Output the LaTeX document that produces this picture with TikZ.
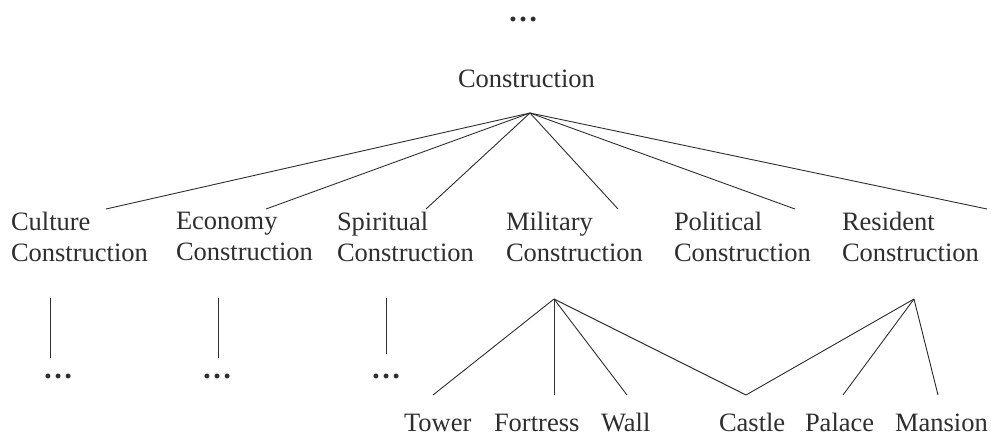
\documentclass[tikz,border=0pt]{standalone}
\usepackage{fontspec}
\setmainfont{Liberation Serif}
\definecolor{ink}{HTML}{2E2E2E}
\tikzset{
  label/.style={inner sep=0pt, outer sep=0pt, text=ink,
    font=\fontsize{26.5}{31}\selectfont},
  twoline/.style={label, align=left, anchor=north west},
  leaf/.style={label, anchor=base west},
  more/.style={inner sep=0pt, outer sep=0pt, text=ink, anchor=base,
    font=\fontsize{30}{30}\selectfont\bfseries},
  edge/.style={draw=ink, line width=0.9pt},
}
\begin{document}
\begin{tikzpicture}[x=1pt, y=-1pt]
  \useasboundingbox (0,0) rectangle (991,436);

  % root of the tree and the omitted level above it
  \node[more] (top) at (523,22) {…};
  \node[leaf] (root) at (458,88) {Construction};
  \coordinate (root-p) at (530,113);

  % second level
  \node[twoline] (cul) at (11,212) {Culture\\Construction};
  \node[twoline] (eco) at (176,212) {Economy\\Construction};
  \node[twoline] (spi) at (337,212) {Spiritual\\Construction};
  \node[twoline] (mil) at (506,212) {Military\\Construction};
  \node[twoline] (pol) at (674,212) {Political\\Construction};
  \node[twoline] (res) at (842,212) {Resident\\Construction};

  % where the edges from the root meet each child
  \coordinate (cul-p) at (106,209);
  \coordinate (eco-p) at (266,209);
  \coordinate (spi-p) at (426,209);
  \coordinate (mil-p) at (618,209);
  \coordinate (pol-p) at (795,209);
  \coordinate (res-p) at (987,209);

  \foreach \c in {cul,eco,spi,mil,pol,res}
    \draw[edge] (root-p) -- (\c-p);

  % collapsed branches
  \coordinate (cul-b) at (50,298);
  \coordinate (eco-b) at (218,298);
  \coordinate (spi-b) at (386,298);
  \coordinate (cul-e) at (50,358);
  \coordinate (eco-e) at (218,358);
  \coordinate (spi-e) at (386,354);
  \node[more] (cul-m) at (58,378) {…};
  \node[more] (eco-m) at (217,378) {…};
  \node[more] (spi-m) at (386,378) {…};
  \foreach \c in {cul,eco,spi}
    \draw[edge] (\c-b) -- (\c-e);

  % third level
  \node[leaf] (tow) at (404,431) {Tower};
  \node[leaf] (for) at (494,431) {Fortress};
  \node[leaf] (wal) at (601,431) {Wall};
  \node[leaf] (cas) at (719,431) {Castle};
  \node[leaf] (pal) at (805,431) {Palace};
  \node[leaf] (man) at (895,431) {Mansion};

  \coordinate (mil-b) at (554,299);
  \coordinate (res-b) at (914,299);
  \coordinate (tow-p) at (433,395);
  \coordinate (for-p) at (554,395);
  \coordinate (wal-p) at (627,395);
  \coordinate (cas-p) at (746,395);
  \coordinate (pal-p) at (843,395);
  \coordinate (man-p) at (938,395);

  \foreach \c in {tow,for,wal,cas}
    \draw[edge] (mil-b) -- (\c-p);
  \foreach \c in {cas,pal,man}
    \draw[edge] (res-b) -- (\c-p);
\end{tikzpicture}
\end{document}
